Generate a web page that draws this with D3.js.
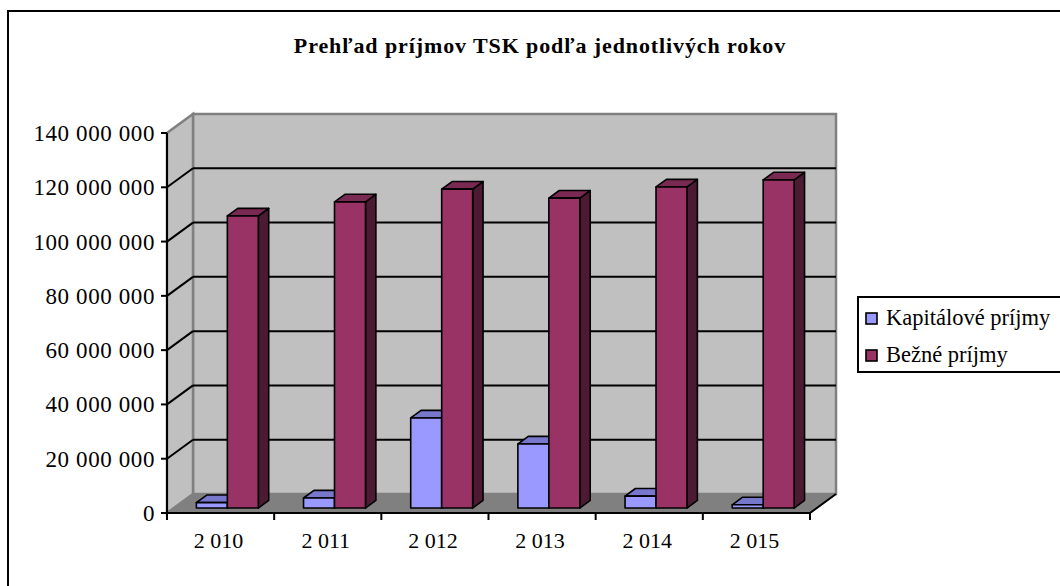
<!DOCTYPE html>
<html><head><meta charset="utf-8">
<script src="https://cdn.jsdelivr.net/npm/d3@7"></script>
<style>body{margin:0;background:#fff}</style>
</head><body>
<script>
const title = "Prehľad príjmov TSK podľa jednotlivých rokov";
const years = ["2 010","2 011","2 012","2 013","2 014","2 015"];
const seriesNames = ["Kapitálové príjmy","Bežné príjmy"];
const kapitalove = [2.0e6, 3.7e6, 33.2e6, 23.6e6, 4.4e6, 1.2e6];
const bezne = [107.6e6, 112.8e6, 117.5e6, 114.2e6, 118.3e6, 120.9e6];
const yTicks = [0,20e6,40e6,60e6,80e6,100e6,120e6,140e6];

const FONT='"Liberation Serif", "Times New Roman", "DejaVu Serif", serif';
const W=1060,H=586;
const svg=d3.select("body").append("svg").attr("width",W).attr("height",H).attr("font-family",FONT);
svg.append("rect").attr("x",8).attr("y",11).attr("width",1100).attr("height",700)
  .attr("fill","#fff").attr("stroke","#000").attr("stroke-width",2);

const x0=d3.scaleBand().domain(years).range([167,810]);
const x1=d3.scaleBand().domain(seriesNames).range([0,x0.bandwidth()]).paddingOuter(0.73).paddingInner(0);
const y=d3.scaleLinear().domain([0,140e6]).range([513,133]);
const DX=26, DY=-19;
const P=(xf,v,d)=>[xf+DX*d, y(v)+DY*d];
const pts=a=>a.map(p=>p.join(",")).join(" ");
const xL=x0.range()[0], xR=x0.range()[1], vMax=yTicks[yTicks.length-1];

// back wall
svg.append("polygon").attr("points",pts([P(xL,0,1),P(xR,0,1),P(xR,vMax,1),P(xL,vMax,1)]))
  .attr("fill","#c0c0c0").attr("stroke","#808080").attr("stroke-width",2.5);
// left wall
svg.append("polygon").attr("points",pts([P(xL,0,0),P(xL,0,1),P(xL,vMax,1),P(xL,vMax,0)]))
  .attr("fill","#c0c0c0").attr("stroke","#808080").attr("stroke-width",2.5);
// floor
svg.append("polygon").attr("points",pts([P(xL,0,0),P(xR,0,0),P(xR,0,1),P(xL,0,1)]))
  .attr("fill","#808080").attr("stroke","#808080").attr("stroke-width",1);
// gridlines
const grid=yTicks.filter(t=>t>0&&t<vMax);
grid.forEach(t=>{
  const a=P(xL,t,1),b=P(xR,t,1),c=P(xL,t,0);
  svg.append("line").attr("x1",a[0]).attr("y1",a[1]).attr("x2",b[0]).attr("y2",b[1]).attr("stroke","#000").attr("stroke-width",2);
  svg.append("line").attr("x1",c[0]).attr("y1",c[1]).attr("x2",a[0]).attr("y2",a[1]).attr("stroke","#000").attr("stroke-width",2);
});
// floor front edges
{
  const a=P(xL,0,0),b=P(xR,0,0),c=P(xR,0,1);
  svg.append("polyline").attr("points",pts([a,b,c])).attr("fill","none").attr("stroke","#000").attr("stroke-width",2);
}
// bars
const colors={"Kapitálové príjmy":{front:"#9999ff",top:"#7777cc",side:"#4d4d80"},
              "Bežné príjmy":{front:"#993366",top:"#7a2952",side:"#4d1a33"}};
const vals={"Kapitálové príjmy":kapitalove,"Bežné príjmy":bezne};
const d0=0.26,d1=0.66;
years.forEach((yr,i)=>{
  seriesNames.forEach(s=>{
    const v=vals[s][i], xf=x0(yr)+x1(s), w=x1.bandwidth(), c=colors[s];
    const g=svg.append("g").attr("stroke","#000").attr("stroke-width",1.6).attr("stroke-linejoin","round");
    g.append("polygon").attr("points",pts([P(xf+w,0,d0),P(xf+w,v,d0),P(xf+w,v,d1),P(xf+w,0,d1)])).attr("fill",c.side);
    g.append("polygon").attr("points",pts([P(xf,v,d0),P(xf+w,v,d0),P(xf+w,v,d1),P(xf,v,d1)])).attr("fill",c.top);
    g.append("polygon").attr("points",pts([P(xf,0,d0),P(xf+w,0,d0),P(xf+w,v,d0),P(xf,v,d0)])).attr("fill",c.front);
  });
});
// value axis
svg.append("line").attr("x1",xL).attr("x2",xL).attr("y1",y(vMax)).attr("y2",y(0)).attr("stroke","#000").attr("stroke-width",2);
const fmt=d3.formatLocale({decimal:",",thousands:" ",grouping:[3],currency:["",""]}).format(",d");
yTicks.forEach(t=>{
  svg.append("line").attr("x1",xL-6).attr("x2",xL).attr("y1",y(t)).attr("y2",y(t)).attr("stroke","#000").attr("stroke-width",2);
  svg.append("text").attr("x",155).attr("y",y(t)).attr("dy","0.35em").attr("text-anchor","end")
    .attr("font-family",FONT).attr("font-size",23).attr("letter-spacing",0.6).text(fmt(t));
});
// category axis
const edges=years.map(d=>x0(d)).concat([xR]);
edges.forEach(xx=>{
  svg.append("line").attr("x1",xx).attr("x2",xx).attr("y1",y(0)).attr("y2",y(0)+7).attr("stroke","#000").attr("stroke-width",2);
});
years.forEach(yr=>{
  svg.append("text").attr("x",x0(yr)+x0.bandwidth()/2-2).attr("y",548).attr("text-anchor","middle")
    .attr("font-family",FONT).attr("font-size",22).text(yr);
});
// title
svg.append("text").attr("x",540).attr("y",53).attr("text-anchor","middle").attr("font-size",22)
  .attr("font-family",FONT).attr("font-weight","bold").attr("letter-spacing",0.9).text(title);
// legend
svg.append("rect").attr("x",858).attr("y",297).attr("width",220).attr("height",75)
  .attr("fill","#fff").attr("stroke","#000").attr("stroke-width",2);
seriesNames.forEach((s,i)=>{
  const yy=313+i*37;
  svg.append("rect").attr("x",866).attr("y",yy).attr("width",11).attr("height",11)
    .attr("fill",colors[s].front).attr("stroke","#000").attr("stroke-width",1.6);
  svg.append("text").attr("x",886).attr("y",yy+12).attr("font-family",FONT).attr("font-size",22.5).text(s);
});
</script>
</body></html>
